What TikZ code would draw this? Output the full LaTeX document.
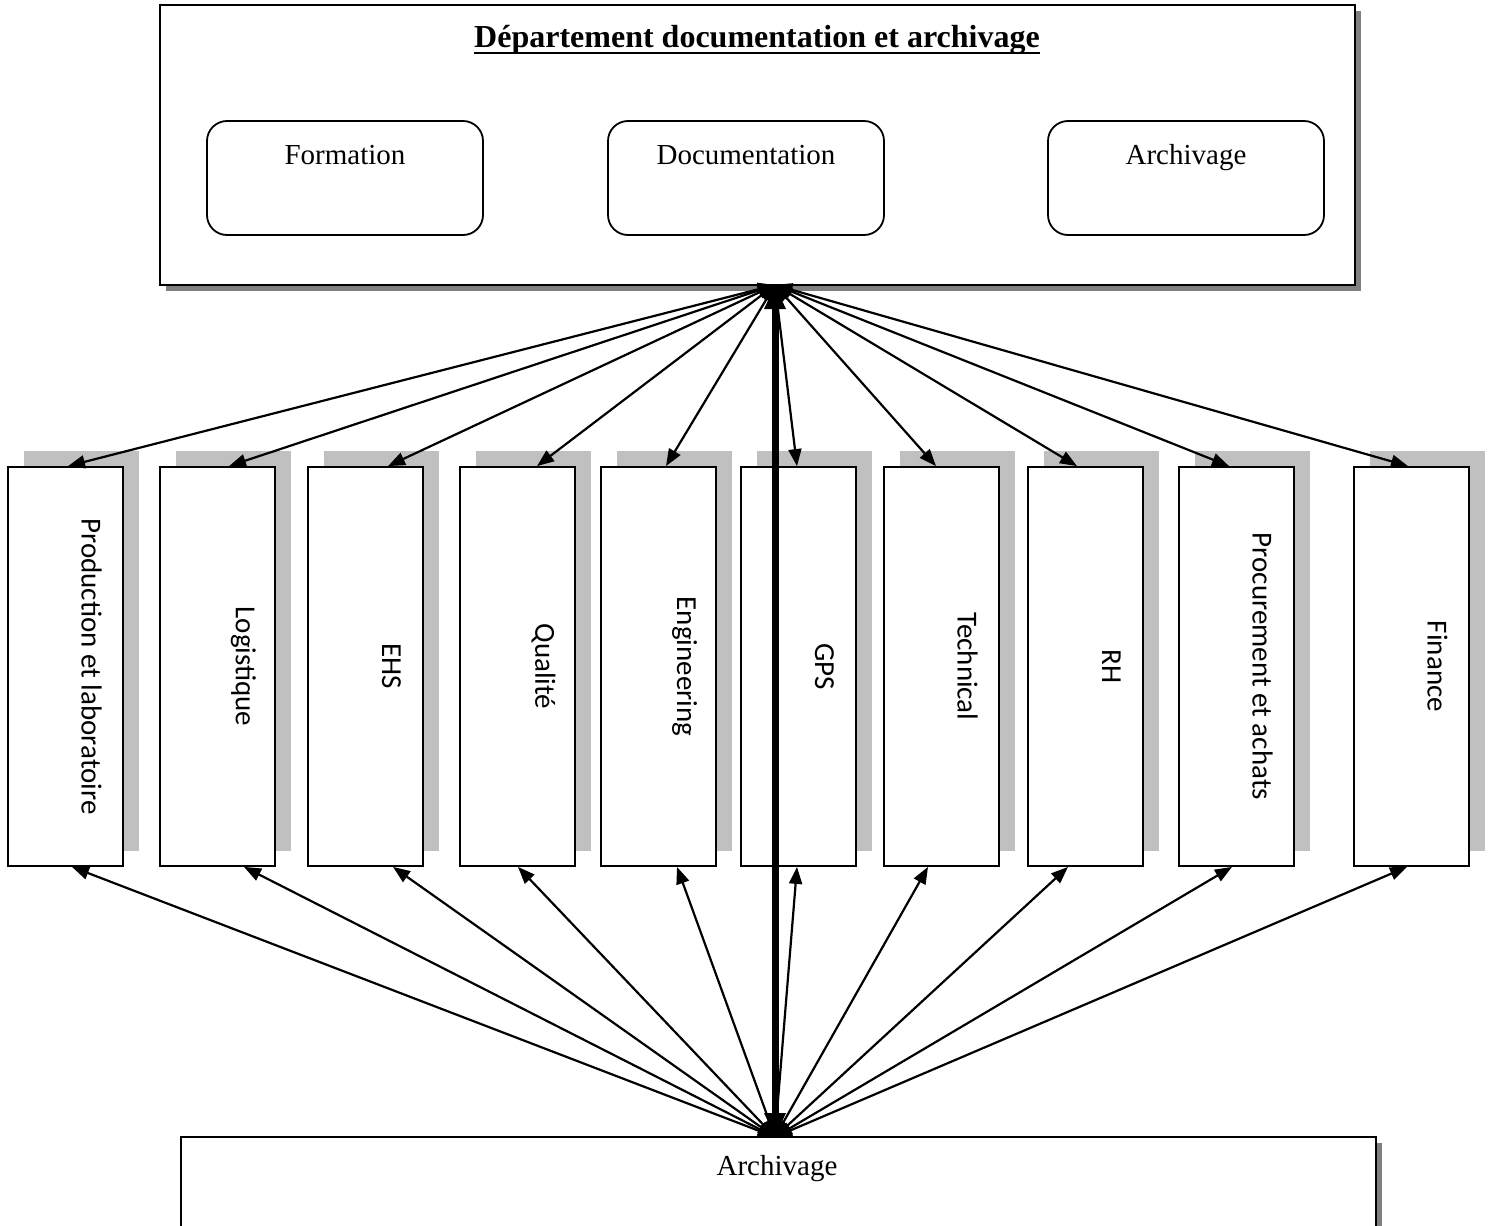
\documentclass[tikz,border=0pt]{standalone}
\usepackage{fontspec}
\setmainfont{Liberation Serif}
\newfontfamily\boxfont{Carlito}
\usetikzlibrary{arrows.meta}

\definecolor{darkshadow}{HTML}{808080}
\definecolor{lightshadow}{HTML}{C0C0C0}

\begin{document}
\begin{tikzpicture}[x=1pt,y=-1pt,
  bigbox/.style={draw, line width=2.4pt, fill=white, inner sep=0pt},
  subbox/.style={draw, line width=1.8pt, rounded corners=20pt, minimum width=276pt, minimum height=114pt, inner sep=0pt},
  vbox/.style={draw, line width=1.8pt, fill=white, minimum width=115pt, minimum height=399pt, inner sep=0pt},
  serifbig/.style={font=\fontsize{29}{34}\selectfont, inner sep=0pt, anchor=base},
  vlabel/.style={font=\boxfont\fontsize{29}{34}\selectfont, rotate=-90, inner sep=0pt},
  arr/.style={{Triangle[length=17pt,width=13pt]}-{Triangle[length=17pt,width=13pt]}, line width=2.2pt},
  thickarr/.style={{Triangle[length=24pt,width=20pt]}-{Triangle[length=24pt,width=20pt]}, line width=7pt}
]
\clip (0,0) rectangle (1489,1226);
\fill[white] (0,0) rectangle (1489,1226);

% department box with its shadow
\fill[darkshadow] (166,11) rectangle (1361,291);
\node[bigbox, minimum width=1195pt, minimum height=280pt] (dept) at (757.5,145) {};
\node[font=\bfseries\fontsize{32}{38}\selectfont, inner sep=0pt, anchor=base] (title) at (757,47) {Département documentation et archivage};
\draw[line width=2.6pt] ([yshift=-6pt]title.base west) -- ([yshift=-6pt]title.base east);

% services of the department
\node[subbox] (form) at (345,178) {};
\node[serifbig] (formT) at (345,164) {Formation};
\node[subbox] (docu) at (746,178) {};
\node[serifbig] (docuT) at (746,164) {Documentation};
\node[subbox] (arch) at (1186,178) {};
\node[serifbig] (archT) at (1186,164) {Archivage};

% archive box at the bottom
\fill[darkshadow] (187,1143) rectangle (1382,1300);
\node[bigbox, minimum width=1195pt, minimum height=163pt] (archive) at (778.5,1218.5) {};
\node[serifbig] (archiveT) at (777,1175) {Archivage};

\coordinate (hubT) at (775,285);
\coordinate (hubB) at (775,1137);

% departments, each with a light shadow to the upper right
\foreach \i/\cx/\lbl in {
  1/65.5/Production et laboratoire,
  2/217.5/Logistique,
  3/365.5/EHS,
  4/517.5/Qualité,
  5/658.5/Engineering,
  6/798.5/GPS,
  7/941.5/Technical,
  8/1085.5/RH,
  9/1236.5/Procurement et achats,
  10/1411.5/Finance}{
  \fill[lightshadow] (\cx-41.5,451) rectangle (\cx+73.5,851);
  \node[vbox] (p\i) at (\cx,666.5) {};
  \node[vlabel] (l\i) at (\cx+26,666.5) {\lbl};
}

% links from the department and from the archive to every service
\foreach \i/\tx/\bx in {
  1/68/72, 2/229/244, 3/388/393, 4/537/518, 5/666/677,
  6/797/797, 7/936/928, 8/1077/1068, 9/1229/1232, 10/1408/1407}{
  \coordinate (t\i) at (\tx,0);
  \coordinate (b\i) at (\bx,0);
  \draw[arr] (hubT) -- (t\i |- p\i.north);
  \draw[arr] (hubB) -- (b\i |- p\i.south);
}

\draw[thickarr] (hubT) -- (hubB);
\end{tikzpicture}
\end{document}
